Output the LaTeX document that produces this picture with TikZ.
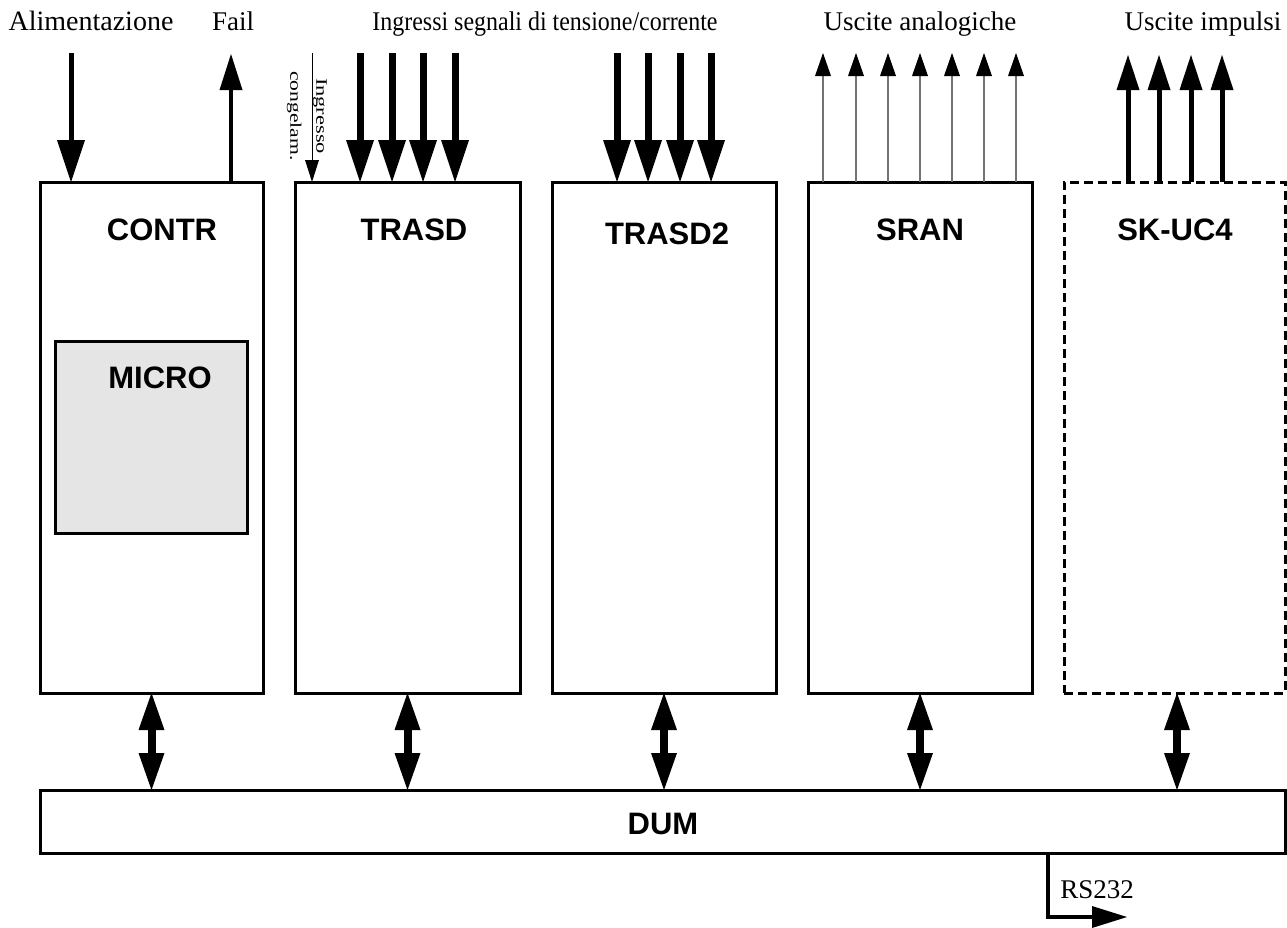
\documentclass[tikz,border=0pt]{standalone}
\usepackage{fontspec}
\setmainfont{Liberation Serif}
\setsansfont{Liberation Sans}
\usetikzlibrary{arrows.meta}
\begin{document}
\begin{tikzpicture}[x=1pt,y=-1pt,
  blk/.style={draw, rectangle, line width=3pt, inner sep=0pt, outer sep=0pt},
  dashblk/.style={blk, dash pattern=on 9pt off 5pt},
  blabel/.style={anchor=base, inner sep=0pt, font=\sffamily\bfseries\fontsize{31}{36}\selectfont},
  tlabel/.style={anchor=base, inner sep=0pt, font=\fontsize{27}{32}\selectfont},
  alimarr/.style={line width=5pt, -{Triangle[length=42pt,width=28pt,line width=0pt]}},
  failarr/.style={line width=3.5pt, -{Triangle[length=36pt,width=23pt,line width=0pt]}},
  congarr/.style={line width=1pt, -{Triangle[length=22pt,width=14pt,line width=0pt]}},
  inarr/.style={line width=7pt, -{Triangle[length=42pt,width=28pt,line width=0pt]}},
  anarr/.style={line width=1.5pt, draw=black!55, -{Triangle[length=23pt,width=16pt,line width=0pt,color=black]}},
  imparr/.style={line width=5pt, -{Triangle[length=35pt,width=23pt,line width=0pt]}},
  busarr/.style={line width=8pt, {Triangle[length=37pt,width=26pt,line width=0pt]}-{Triangle[length=37pt,width=26pt,line width=0pt]}},
  rsarr/.style={line width=4pt, -{Triangle[length=35pt,width=22pt,line width=0pt]}}
]
\useasboundingbox (0,0) rectangle (1287,927);

% blocks
\node[blk, minimum width=223pt, minimum height=511pt] (contr) at (151.5,437.5) {};
\node[blk, minimum width=225pt, minimum height=511pt] (trasd) at (407.5,437.5) {};
\node[blk, minimum width=224pt, minimum height=511pt] (trasd2) at (664,437.5) {};
\node[blk, minimum width=224pt, minimum height=511pt] (sran) at (920,437.5) {};
\node[dashblk, minimum width=221pt, minimum height=511pt] (skuc) at (1174.5,437.5) {};
\node[blk, fill=black!10, minimum width=192pt, minimum height=192pt] (micro) at (151,437) {};
\node[blk, minimum width=1245pt, minimum height=63pt] (dum) at (662.5,821.5) {};

% block labels
\node[blabel] (lcontr) at (162,240) {CONTR};
\node[blabel] (ltrasd) at (414,240) {TRASD};
\node[blabel] (ltrasd2) at (667,244) {TRASD2};
\node[blabel] (lsran) at (920,240) {SRAN};
\node[blabel] (lskuc) at (1175,240) {SK-UC4};
\node[blabel] (lmicro) at (160,388) {MICRO};
\node[blabel] (ldum) at (663,834) {DUM};

% top labels
\node[tlabel, font=\fontsize{28}{32}\selectfont] (talim) at (91,30) {Alimentazione};
\node[tlabel] (tfail) at (233,30) {Fail};
\node[tlabel] (tin) at (545,30) {\scalebox{0.887}[1]{Ingressi segnali di tensione/corrente}};
\node[tlabel] (tan) at (920,30) {Uscite analogiche};
\node[tlabel] (timp) at (1203,30) {Uscite impulsi};
\node[rotate=-90, align=center, inner sep=0pt, font=\fontsize{16}{26}\selectfont] (tcong) at (307,116)
  {\scalebox{1.4}[1]{Ingresso}\\\scalebox{1.35}[1]{congelam.}};

% CONTR arrows
\coordinate (alim) at (71,53);
\draw[alimarr] (alim) -- (alim |- contr.north);
\coordinate (fail) at (231,54);
\draw[failarr] (fail |- contr.north) -- (fail);

% TRASD arrows
\coordinate (cong) at (312,53);
\draw[congarr] (cong) -- (cong |- trasd.north);
\foreach \x [count=\i] in {360,392,423,455}{
  \coordinate (ti\i) at (\x,53);
  \draw[inarr] (ti\i) -- (ti\i |- trasd.north);
}
% TRASD2 arrows
\foreach \x [count=\i] in {617,648,680,711}{
  \coordinate (tj\i) at (\x,53);
  \draw[inarr] (tj\i) -- (tj\i |- trasd2.north);
}
% SRAN arrows
\foreach \x [count=\i] in {823,856,888,920,952,984,1016}{
  \coordinate (so\i) at (\x,53);
  \draw[anarr] (so\i |- sran.north) -- (so\i);
}
% SK-UC4 arrows
\foreach \x [count=\i] in {1128,1159,1191,1222}{
  \coordinate (sk\i) at (\x,55);
  \draw[imparr] (sk\i |- skuc.north) -- (sk\i);
}

% bus arrows
\draw[busarr] (contr.south) -- (contr.south |- dum.north);
\draw[busarr] (trasd.south) -- (trasd.south |- dum.north);
\draw[busarr] (trasd2.south) -- (trasd2.south |- dum.north);
\draw[busarr] (sran.south) -- (sran.south |- dum.north);
\coordinate (skb) at (1177,693);
\draw[busarr] (skb) -- (skb |- dum.north);

% RS232
\coordinate (rsa) at (1048,917);
\coordinate (rsb) at (1127,917);
\draw[rsarr] (rsa |- dum.south) -- (rsa) -- (rsb);
\node[tlabel] (trs) at (1097,898) {RS232};
\end{tikzpicture}
\end{document}
